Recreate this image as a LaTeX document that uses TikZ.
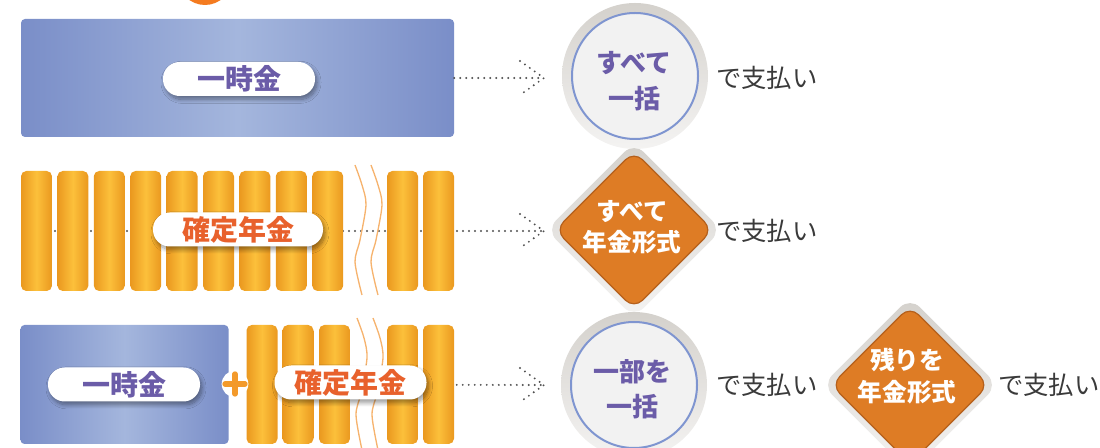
\documentclass[tikz,border=0pt]{standalone}
\usepackage{fontspec}
\setmainfont{Noto Sans CJK JP}
\usetikzlibrary{shapes.geometric,calc,shadows.blur}
\definecolor{bluedk}{HTML}{7A8EC8}
\definecolor{bluelt}{HTML}{A4B6DD}
\definecolor{orgdk}{HTML}{EA981F}
\definecolor{orglt}{HTML}{FCC03B}
\definecolor{purp}{HTML}{6B5CA8}
\definecolor{lblorg}{HTML}{E8612C}
\definecolor{ringdk}{HTML}{D4D1CC}
\definecolor{ringlt}{HTML}{F4F3F2}
\definecolor{discfill}{HTML}{F2F2F2}
\definecolor{discline}{HTML}{7F95D0}
\definecolor{diafill}{HTML}{DE7C25}
\definecolor{dialine}{HTML}{B5601C}
\definecolor{waveorg}{HTML}{F6B36E}
\definecolor{plusorg}{HTML}{F39A2B}
\definecolor{toporg}{HTML}{F47B20}
\definecolor{dotgray}{HTML}{505050}
\definecolor{txtgray}{HTML}{3A3A3A}
\begin{document}
\begin{tikzpicture}[x=0.75pt,y=-0.75pt,
  bluebox/.style={rectangle, rounded corners=3pt, left color=bluedk, right color=bluedk, middle color=bluelt, inner sep=0pt},
  bar/.style={rectangle, rounded corners=4pt, left color=orgdk, right color=orgdk, middle color=orglt, minimum width=23.25pt, inner sep=0pt},
  pill/.style={fill=white, rounded corners=12.5pt, minimum height=25.5pt, inner sep=0pt,
     blur shadow={shadow xshift=1.5pt, shadow yshift=-2.5pt, shadow opacity=40, shadow blur steps=10, shadow blur radius=3pt},
     font=\fontsize{21}{21}\selectfont\bfseries},
  ring/.style={circle, minimum size=109.5pt, inner sep=0pt, top color=ringdk, bottom color=ringlt},
  disc/.style={circle, minimum size=94.5pt, inner sep=0pt, fill=discfill, draw=discline, line width=1.5pt},
  ctext/.style={align=center, text=purp, font=\fontsize{19.5}{26.5}\selectfont\bfseries, inner sep=0pt},
  dring/.style={diamond, aspect=1, minimum size=131.7pt, inner sep=0pt, rounded corners=10.5pt, top color=ringdk, bottom color=ringlt},
  dia/.style={diamond, aspect=1, minimum size=118.5pt, inner sep=0pt, rounded corners=9pt, fill=diafill, draw=dialine, line width=0.9pt},
  dtext/.style={align=center, text=white, font=\fontsize{18.5}{23.5}\selectfont\bfseries, inner sep=0pt},
  paytext/.style={anchor=west, text=txtgray, font=\fontsize{19}{19}\selectfont, inner sep=0pt},
  dotline/.style={draw=dotgray, line width=1.6pt, line cap=round, dash pattern=on 0pt off 4.5pt},
  wave/.style={draw=waveorg, line width=1pt}
]
\useasboundingbox (0,0) rectangle (1100,448);

% top orange circle (partly off picture)
\fill[toporg] (205,-22) circle (27);

% ---------- row 1 ----------
\node[bluebox, minimum width=324.75pt, minimum height=88.5pt] (blue1) at (237.5,78) {};
\node[pill, minimum width=114pt, text=purp] (p1) at (239,79) {一時金};
\coordinate (a1) at (544,78);
\draw[dotline] (blue1.east) -- (a1);
\draw[dotline] ($(a1)+(-24,-17)$) -- (a1) -- ($(a1)+(-24,17)$);
\node[ring] (c1) at (635,76) {};
\node[disc] (c1i) at (c1) {};
\node[ctext] (t1) at (634,81) {すべて\\一括};
\node[paytext] (pay1) at (716,78) {で支払い};

% ---------- row 2 ----------
\coordinate (s2) at (25,231);
\coordinate (a2) at (544,231);
\draw[dotline] (s2) -- (a2);
\draw[dotline] ($(a2)+(-24,-17)$) -- (a2) -- ($(a2)+(-24,17)$);
\foreach \i/\x in {1/36.5,2/72.9,3/109.3,4/145.7,5/182.1,6/218.5,7/254.9,8/291.3,9/327.7,10/402.5,11/438.5}{
  \node[bar, minimum height=90pt] (b2\i) at (\x,231) {};
}
\foreach \dx in {0,16}{
  \draw[wave] plot[smooth] coordinates {(355+\dx,165) (362+\dx,185) (366+\dx,205) (360+\dx,240) (355+\dx,262) (362+\dx,295)};
}
\node[pill, minimum width=127.5pt, text=lblorg] (p2) at (238,229.5) {確定年金};
\node[dring] (d2o) at (634,230) {};
\node[dia] (d2) at (634,230) {};
\node[dtext] (t2) at (632,227) {すべて\\年金形式};
\node[paytext] (pay2) at (716,231) {で支払い};

% ---------- row 3 ----------
\node[bluebox, minimum width=156pt, minimum height=89.25pt] (blue3) at (124.5,384.5) {};
\coordinate (a3) at (544,385);
\draw[dotline] (blue3.east) -- (a3);
\draw[dotline] ($(a3)+(-24,-17)$) -- (a3) -- ($(a3)+(-24,17)$);
\foreach \i/\x in {1/262,2/298,3/334.5,4/402.5,5/438.5}{
  \node[bar, minimum height=89.25pt] (b3\i) at (\x,384.5) {};
}
\foreach \dx in {0,16}{
  \draw[wave] plot[smooth] coordinates {(357+\dx,318) (364+\dx,338) (367+\dx,358) (361+\dx,393) (356+\dx,415) (362+\dx,450)};
}
\node[pill, minimum width=114pt, text=purp] (p3) at (124,384.5) {一時金};
\node[pill, minimum width=114pt, text=lblorg] (p4) at (350.5,382.5) {確定年金};
\node[circle, fill=white, minimum size=20pt, inner sep=0pt] (plus) at (235,384) {};
\draw[plusorg, line width=4pt, line cap=round] ($(plus)+(-10,0)$) -- ($(plus)+(10,0)$);
\draw[plusorg, line width=4pt, line cap=round] ($(plus)+(0,-10)$) -- ($(plus)+(0,10)$);

\node[ring] (c3) at (634,385) {};
\node[disc] (c3i) at (c3) {};
\node[ctext] (t3) at (632,389) {一部を\\一括};
\node[paytext] (pay3) at (716,385) {で支払い};
\node[dring] (d4o) at (910,385) {};
\node[dia] (d4) at (910,385) {};
\node[dtext] (t4) at (907,376) {残りを\\年金形式};
\node[paytext] (pay4) at (998,385) {で支払い};
\end{tikzpicture}
\end{document}
